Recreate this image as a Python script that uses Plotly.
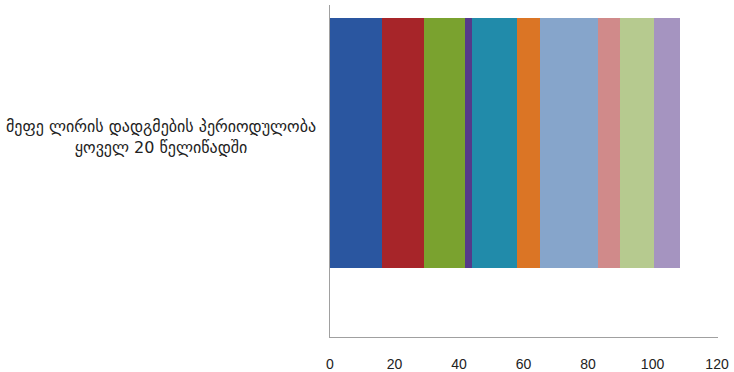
import plotly.graph_objects as go

category_label = "მეფე ლირის დადგმების პერიოდულობა<br>ყოველ 20 წელიწადში"
series_names = [f"Series {i}" for i in range(1, 11)]
series_values = [16, 13, 13, 2, 14, 7, 18, 7, 10.5, 8]
series_colors = ["#2A56A0", "#A72529", "#7AA22F", "#553A8A", "#218BAA",
                 "#DB7525", "#86A5CB", "#D08A8A", "#B6CA8F", "#A594C0"]
x_ticks = [0, 20, 40, 60, 80, 100, 120]

fig = go.Figure()
for name, val, col in zip(series_names, series_values, series_colors):
    fig.add_trace(go.Bar(
        y=[0], x=[val], name=name, orientation="h",
        marker=dict(color=col, line=dict(width=0)), width=1,
    ))

fig.update_layout(
    barmode="stack",
    width=734, height=372,
    margin=dict(l=330, r=16, t=5, b=35),
    paper_bgcolor="white", plot_bgcolor="white",
    showlegend=False,
    font=dict(family="DejaVu Sans", color="#222222"),
    xaxis=dict(range=[0, 120.3], tickvals=x_ticks, showgrid=False, zeroline=False,
               showline=True, linecolor="#A0A0A0", linewidth=1, automargin=False,
               ticks="", ticklabelstandoff=14,
               tickfont=dict(size=14, family="Liberation Sans", color="#222222")),
    yaxis=dict(range=[-0.776, 0.552], showticklabels=False, showgrid=False,
               zeroline=False, showline=True, linecolor="#A0A0A0", linewidth=1,
               automargin=False, ticks=""),
    annotations=[dict(
        text=category_label, xref="paper", yref="y",
        x=(161 - 330) / 388, y=0.024, xanchor="center", yanchor="middle",
        showarrow=False, align="center",
        font=dict(size=16, family="DejaVu Sans", color="#222222"),
    )],
)

fig.write_html(
    "out.html",
    config={"displayModeBar": False},
    post_script="document.body.style.margin='0';",
)
